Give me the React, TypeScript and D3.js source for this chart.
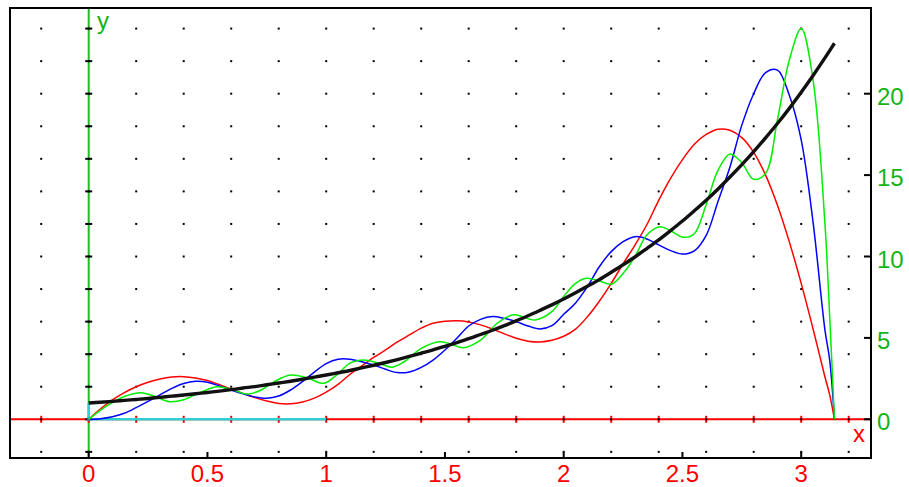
import React from "react";
import * as d3 from "d3";

// sample positions shared by the red, blue and black curves
const xs = [0, 0.05, 0.1, 0.15, 0.2, 0.25, 0.3, 0.35, 0.4, 0.45, 0.5, 0.55, 0.6, 0.65, 0.7, 0.75, 0.8, 0.85, 0.9, 0.95,
  1, 1.05, 1.1, 1.15, 1.2, 1.25, 1.3, 1.35, 1.4, 1.45, 1.5, 1.55, 1.6, 1.65, 1.7, 1.75, 1.8, 1.85, 1.9, 1.95,
  2, 2.05, 2.1, 2.15, 2.2, 2.25, 2.3, 2.35, 2.4, 2.45, 2.5, 2.55, 2.6, 2.65, 2.7, 2.75, 2.8, 2.85, 2.9, 2.95,
  3, 3.05, 3.1, 3.12, 3.14];

const redY = [0, 0.64, 1.19, 1.64, 2.0, 2.28, 2.48, 2.6, 2.62, 2.54, 2.38, 2.13, 1.86, 1.58, 1.33, 1.13, 0.97, 0.95, 1.06, 1.3,
  1.67, 2.15, 2.75, 3.28, 3.8, 4.26, 4.75, 5.18, 5.6, 5.9, 6.02, 6.05, 5.98, 5.8, 5.55, 5.25, 4.98, 4.8, 4.75, 4.85,
  5.1, 5.54, 6.3, 7.25, 8.35, 9.55, 10.7, 11.95, 13.45, 14.8, 15.95, 16.9, 17.5, 17.82, 17.75, 17.3, 16.4, 15.0, 13.15, 10.9,
  8.35, 5.55, 2.6, 1.5, 0];

const blueY = [0, 0.04, 0.16, 0.37, 0.72, 1.1, 1.5, 1.9, 2.2, 2.33, 2.27, 2.05, 1.8, 1.56, 1.37, 1.29, 1.43, 1.8, 2.32, 2.9,
  3.42, 3.69, 3.69, 3.54, 3.34, 3.07, 2.87, 2.91, 3.19, 3.64, 4.26, 4.98, 5.73, 6.14, 6.31, 6.2, 6.0, 5.73, 5.55, 5.75,
  6.45, 7.15, 8.15, 9.37, 10.3, 10.91, 11.22, 11.08, 10.71, 10.36, 10.15, 10.35, 11.3, 13.4, 15.5, 18.07, 20.0, 21.3, 21.45, 19.9,
  17.16, 12.1, 5.48, 3.64, 0];

const blackY = [1.0, 1.05, 1.1, 1.16, 1.22, 1.28, 1.35, 1.42, 1.49, 1.57, 1.65, 1.73, 1.82, 1.92, 2.01, 2.12, 2.23, 2.34, 2.46, 2.59,
  2.72, 2.86, 3.0, 3.16, 3.32, 3.49, 3.67, 3.86, 4.06, 4.26, 4.48, 4.71, 4.95, 5.21, 5.47, 5.75, 6.05, 6.36, 6.69, 7.03,
  7.39, 7.77, 8.17, 8.58, 9.03, 9.49, 9.97, 10.49, 11.02, 11.59, 12.18, 12.81, 13.46, 14.15, 14.88, 15.64, 16.44, 17.29, 18.17, 19.1,
  20.09, 21.12, 22.2, 22.65, 23.1];

// green wiggles faster, so it is read at its own positions
const greenX = [0, 0.05, 0.1, 0.15, 0.22, 0.28, 0.34, 0.4, 0.47, 0.54, 0.6, 0.665, 0.72, 0.78, 0.85, 0.92, 0.99,
  1.05, 1.1, 1.157, 1.22, 1.277, 1.33, 1.4, 1.48, 1.53, 1.576, 1.65, 1.72, 1.79, 1.88, 1.95,
  2.0, 2.05, 2.096, 2.15, 2.2, 2.25, 2.3, 2.35, 2.405, 2.45, 2.504, 2.55, 2.6, 2.65, 2.7, 2.75, 2.8, 2.85, 2.9, 2.95,
  3.0, 3.05, 3.1, 3.12, 3.14];
const greenY = [0, 0.57, 1.02, 1.4, 1.63, 1.4, 1.08, 1.2, 1.65, 2.0, 1.85, 1.55, 1.75, 2.3, 2.72, 2.55, 2.21,
  2.8, 3.45, 3.65, 3.45, 3.2, 3.55, 4.36, 4.77, 4.6, 4.4, 4.87, 5.9, 6.42, 6.1, 6.61,
  7.55, 8.35, 8.66, 8.5, 8.3, 8.96, 9.99, 11.32, 11.83, 11.58, 11.18, 11.4, 13.2, 15.3, 16.3, 15.76, 14.74, 15.1, 18.4, 22.07,
  24.0, 20.84, 12.0, 6.3, 0];

const cyanX = [0, 0, 1];
const cyanY = [1, 0, 0];

const xLabelValues = [0, 0.5, 1, 1.5, 2, 2.5, 3];
const xLabels = ["0", "0.5", "1", "1.5", "2", "2.5", "3"];
const yLabelValues = [0, 5, 10, 15, 20];
const yLabels = ["0", "5", "10", "15", "20"];

const W = 909;
const H = 487;
const frame = { left: 10, right: 871, top: 8, bottom: 458 };
const font = "'Liberation Sans', Arial, sans-serif";
const RED = "#ff0000";
const GREEN_TXT = "#16b416";

export default function App() {
  const x = d3.scaleLinear().domain([0, 3]).range([88.7, 801.2]);
  const y = d3.scaleLinear().domain([0, 20]).range([419.3, 93.7]);

  const smooth = d3
    .line<[number, number]>()
    .x((d) => x(d[0]))
    .y((d) => y(d[1]))
    .curve(d3.curveCatmullRom.alpha(0.5));
  const straight = d3
    .line<[number, number]>()
    .x((d) => x(d[0]))
    .y((d) => y(d[1]));

  const pts = (xv: number[], yv: number[]) => xv.map((v, i) => [v, yv[i]] as [number, number]);

  const gridX = d3.range(-0.2, 3.21, 0.2);
  const gridY = d3.range(-2, 24.1, 2);

  return (
    <svg width={W} height={H} style={{ position: "absolute", left: 0, top: 0, background: "#fff" }}>
      <defs>
        <clipPath id="plot">
          <rect x={frame.left} y={frame.top} width={frame.right - frame.left} height={frame.bottom - frame.top} />
        </clipPath>
      </defs>

      {/* axes through the origin */}
      <line x1={frame.left} x2={frame.right} y1={y(0)} y2={y(0)} stroke={RED} strokeWidth={2} />
      <line x1={x(0)} x2={x(0)} y1={frame.top} y2={frame.bottom} stroke="#22bb22" strokeWidth={2} />

      {gridX.map((g) => (
        <line key={"xt" + g} x1={x(g)} x2={x(g)} y1={y(0) - 3.5} y2={y(0) + 3.5} stroke={RED} strokeWidth={2} />
      ))}
      {gridY.map((g) => (
        <line key={"yt" + g} x1={x(0) - 3.5} x2={x(0) + 3.5} y1={y(g)} y2={y(g)} stroke="#000" strokeWidth={2} />
      ))}

      {/* dotted grid */}
      {gridX.map((gx) =>
        gridY.map((gy) => (
          <rect key={gx + "_" + gy} x={x(gx) - 1} y={y(gy) - 1} width={2} height={2} fill="#000" />
        ))
      )}

      <g clipPath="url(#plot)" fill="none">
        <path d={straight(pts(cyanX, cyanY)) || ""} stroke="#30d0d0" strokeWidth={2.6} />
        <path d={smooth(pts(xs, redY)) || ""} stroke={RED} strokeWidth={1.5} />
        <path d={smooth(pts(xs, blueY)) || ""} stroke="#0000ff" strokeWidth={1.5} />
        <path d={smooth(pts(greenX, greenY)) || ""} stroke="#00ee00" strokeWidth={1.5} />
        <path d={smooth(pts(xs, blackY)) || ""} stroke="#111" strokeWidth={3.4} />
      </g>

      {/* frame */}
      <rect x={frame.left} y={frame.top} width={frame.right - frame.left} height={frame.bottom - frame.top}
        fill="none" stroke="#000" strokeWidth={2} />
      {xLabelValues.map((v) => (
        <line key={"bt" + v} x1={x(v)} x2={x(v)} y1={frame.bottom} y2={frame.bottom - 6} stroke="#000" strokeWidth={2} />
      ))}
      {yLabelValues.map((v) => (
        <line key={"rt" + v} x1={frame.right} x2={frame.right - 7} y1={y(v)} y2={y(v)} stroke="#000" strokeWidth={2} />
      ))}

      <g fontFamily={font} fontSize={24}>
        {xLabelValues.map((v, i) => (
          <text key={"xl" + v} x={x(v)} y={482} textAnchor="middle" fill={RED}>{xLabels[i]}</text>
        ))}
        {yLabelValues.map((v, i) => (
          <text key={"yl" + v} x={877} y={y(v) + 11} fill={GREEN_TXT}>{yLabels[i]}</text>
        ))}
        <text x={97} y={29} fill={GREEN_TXT}>y</text>
        <text x={853} y={442} fill={RED}>x</text>
      </g>
    </svg>
  );
}
